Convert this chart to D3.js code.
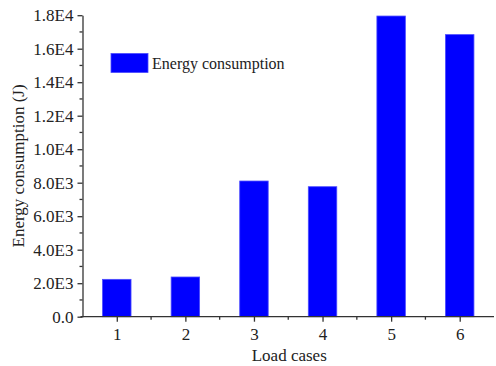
<!DOCTYPE html>
<html>
<head>
<meta charset="utf-8">
<script src="https://cdn.jsdelivr.net/npm/d3@7"></script>
<style>
  html, body { margin: 0; padding: 0; background: #fff; }
  svg { display: block; }
  svg text { font-family: "Liberation Serif", "Times New Roman", "DejaVu Serif", serif !important; fill: #222; }
</style>
</head>
<body>
<svg id="chart" width="496" height="366"></svg>
<script>
// Load cases and their energy consumption (J)
const categories = [1, 2, 3, 4, 5, 6];
const energy = [2230, 2370, 8100, 7760, 17950, 16840];
const yTickValues = [0, 2000, 4000, 6000, 8000, 10000, 12000, 14000, 16000, 18000];
const yTickLabels = ["0.0", "2.0E3", "4.0E3", "6.0E3", "8.0E3", "1.0E4", "1.2E4", "1.4E4", "1.6E4", "1.8E4"];
const seriesName = "Energy consumption";

const svg = d3.select("#chart");
const axisColor = "#333";
const serif = '"Liberation Serif", "Times New Roman", serif';

const x = d3.scaleLinear().domain([0.5, 6.5]).range([82.5, 494]);
const y = d3.scaleLinear().domain([0, 18000]).range([316.7, 15.2]);
const barW = (x(1) - x(0)) * 0.415;

// bars
svg.append("g").selectAll("rect")
  .data(categories)
  .join("rect")
  .attr("x", (d) => x(d) - barW / 2)
  .attr("y", (d, i) => y(energy[i]))
  .attr("width", barW)
  .attr("height", (d, i) => y(0) - y(energy[i]))
  .attr("fill", "#0000ff")
  .attr("stroke", "#4a4aff")
  .attr("stroke-width", 0.8);

// y axis with minor ticks
const yAxis = svg.append("g").attr("transform", `translate(${x(0.5)},0)`);
yAxis.call(d3.axisLeft(y).tickValues(yTickValues)
  .tickFormat((d, i) => yTickLabels[i]).tickSize(5).tickPadding(4).tickSizeOuter(0));
const yMinor = d3.range(1000, 18000, 2000);
yAxis.selectAll(".minor").data(yMinor).join("line")
  .attr("class", "minor")
  .attr("x1", -3).attr("x2", 0)
  .attr("y1", (d) => y(d)).attr("y2", (d) => y(d));

// x axis with minor ticks
const xAxis = svg.append("g").attr("transform", `translate(0,${y(0)})`);
xAxis.call(d3.axisBottom(x).tickValues(categories)
  .tickFormat(d3.format("d")).tickSize(5).tickPadding(6).tickSizeOuter(0));
const xMinor = [1.5, 2.5, 3.5, 4.5, 5.5];
xAxis.selectAll(".minor").data(xMinor).join("line")
  .attr("class", "minor")
  .attr("y1", 0).attr("y2", 3)
  .attr("x1", (d) => x(d)).attr("x2", (d) => x(d));
xAxis.select(".domain").attr("d", `M${x(0.5) - 2},0H${x(6.5)}`);

svg.selectAll("g").attr("font-family", serif);
svg.selectAll(".domain, .tick line, .minor")
  .attr("stroke", axisColor).attr("stroke-width", 1.3);
svg.selectAll(".tick text")
  .style("font-family", serif).style("font-size", "17px").attr("fill", "#222");

// axis titles
svg.append("text")
  .attr("x", (x(0.5) + x(6.5)) / 2 + 1)
  .attr("y", 361)
  .attr("text-anchor", "middle")
  .style("font-size", "17px")
  .text("Load cases");

svg.append("text")
  .attr("transform", `translate(24,${(y(0) + y(18000)) / 2}) rotate(-90)`)
  .attr("text-anchor", "middle")
  .style("font-size", "17px")
  .text("Energy consumption (J)");

// legend
const legend = svg.append("g").attr("transform", "translate(111,53.5)");
legend.append("rect")
  .attr("width", 37).attr("height", 19)
  .attr("fill", "#0000ff").attr("stroke", "#4a4aff").attr("stroke-width", 0.8);
legend.append("text")
  .attr("x", 41).attr("y", 15)
  .style("font-size", "16px")
  .text(seriesName);
</script>
</body>
</html>
